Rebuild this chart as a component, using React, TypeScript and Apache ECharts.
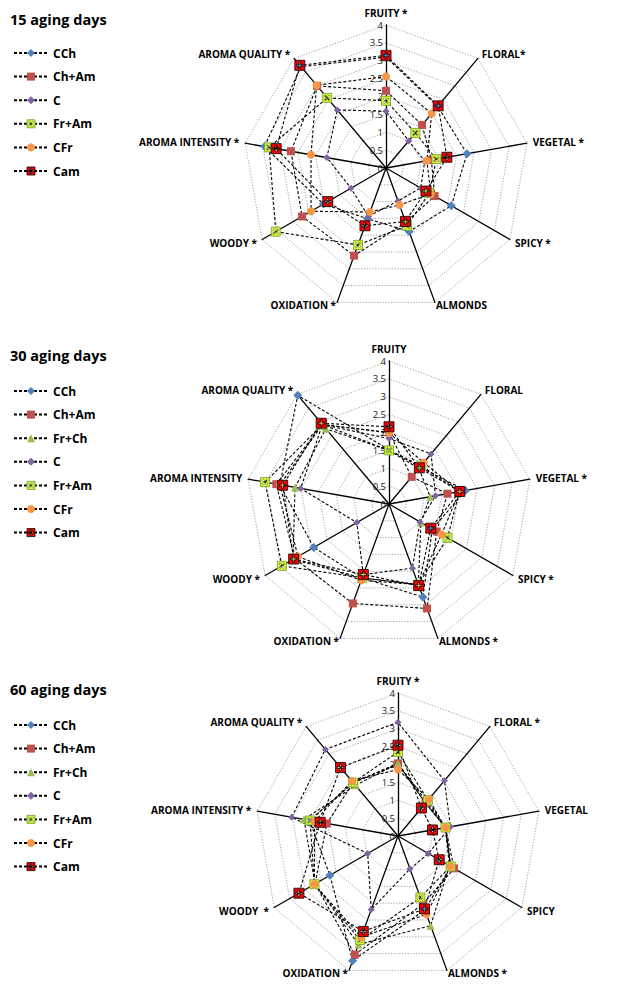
import React, { useEffect, useRef } from 'react';
import * as echarts from 'echarts';

// ---- data ----
const titles = ['15 aging days', '30 aging days', '60 aging days'];
const axisMax = 4;
const axisSplits = 8; // ticks every 0.5

const indicators15 = ['FRUITY *', 'FLORAL*', 'VEGETAL *', 'SPICY *', 'ALMONDS', 'OXIDATION *', 'WOODY *', 'AROMA INTENSITY *', 'AROMA QUALITY *'];
const indicators30 = ['FRUITY', 'FLORAL', 'VEGETAL *', 'SPICY *', 'ALMONDS *', 'OXIDATION *', 'WOODY *', 'AROMA INTENSITY', 'AROMA QUALITY *'];
const indicators60 = ['FRUITY *', 'FLORAL *', 'VEGETAL', 'SPICY', 'ALMONDS *', 'OXIDATION *', 'WOODY  *', 'AROMA INTENSITY *', 'AROMA QUALITY *'];

const names15 = ['CCh', 'Ch+Am', 'C', 'Fr+Am', 'CFr', 'Cam'];
const names30 = ['CCh', 'Ch+Am', 'Fr+Ch', 'C', 'Fr+Am', 'CFr', 'Cam'];
const names60 = ['CCh', 'Ch+Am', 'Fr+Ch', 'C', 'Fr+Am', 'CFr', 'Cam'];

// order: Fruity, Floral, Vegetal, Spicy, Almonds, Oxidation, Woody, Aroma intensity, Aroma quality
const d15CCh = [3.10, 2.25, 2.30, 2.11, 1.89, 1.51, 2.02, 3.45, 3.70];
const d15ChAm = [2.16, 1.57, 1.29, 1.57, 1.62, 2.61, 2.71, 2.70, 3.00];
const d15C = [1.59, 0.99, 1.10, 1.12, 0.98, 1.44, 1.13, 1.68, 2.12];
const d15FrAm = [1.88, 1.28, 1.43, 1.40, 1.72, 2.29, 3.56, 3.32, 2.56];
const d15CFr = [2.56, 1.99, 1.16, 1.45, 1.10, 1.31, 2.42, 2.13, 3.02];
const d15Cam = [3.15, 2.27, 1.73, 1.29, 1.59, 1.72, 1.88, 3.12, 3.75];

const d30CCh = [1.52, 1.35, 2.17, 1.40, 2.77, 2.20, 2.43, 3.10, 3.97];
const d30ChAm = [2.00, 0.99, 1.66, 1.54, 3.11, 2.96, 3.05, 3.20, 2.90];
const d30FrCh = [1.50, 1.30, 1.17, 1.03, 2.40, 2.20, 3.10, 2.67, 2.75];
const d30C = [1.83, 1.83, 1.32, 1.00, 1.91, 2.10, 1.04, 2.51, 2.90];
const d30FrAm = [1.50, 1.40, 2.00, 1.89, 2.40, 2.20, 3.46, 3.52, 2.90];
const d30CFr = [1.99, 1.51, 2.00, 1.70, 2.40, 2.27, 2.94, 3.10, 2.90];
const d30Cam = [2.16, 1.32, 2.01, 1.35, 2.43, 2.10, 3.08, 3.02, 2.95];

const d60CCh = [2.00, 1.20, 1.35, 1.70, 2.20, 3.71, 2.20, 2.51, 1.95];
const d60ChAm = [2.03, 1.20, 1.35, 1.81, 2.03, 3.53, 2.68, 2.02, 1.95];
const d60FrCh = [2.03, 1.25, 1.34, 1.66, 2.67, 3.23, 2.68, 2.67, 1.85];
const d60C = [3.18, 2.02, 1.49, 0.98, 0.98, 2.19, 0.98, 3.02, 3.16];
const d60FrAm = [2.35, 1.30, 1.35, 1.70, 1.83, 3.10, 2.70, 2.50, 1.95];
const d60CFr = [1.86, 1.34, 1.35, 1.70, 2.33, 3.01, 2.70, 2.37, 2.01];
const d60Cam = [2.54, 1.02, 0.98, 1.33, 2.17, 2.84, 3.20, 2.21, 2.50];

const values15 = [d15CCh, d15ChAm, d15C, d15FrAm, d15CFr, d15Cam];
const values30 = [d30CCh, d30ChAm, d30FrCh, d30C, d30FrAm, d30CFr, d30Cam];
const values60 = [d60CCh, d60ChAm, d60FrCh, d60C, d60FrAm, d60CFr, d60Cam];

// ---- styles ----
const FONT = '"Open Sans", "Liberation Sans", sans-serif';
const camPath = 'path://M0,0H10V10H0Z M4.1,1.8V4.1H1.8V5.9H4.1V8.2H5.9V5.9H8.2V4.1H5.9V1.8Z';
const xPath = 'path://M0,0H10V10H0Z M3,1.8L1.8,3L3.8,5L1.8,7L3,8.2L5,6.2L7,8.2L8.2,7L6.2,5L8.2,3L7,1.8L5,3.8Z';

const STY: Record<string, any> = {
  'CCh': { symbol: 'diamond', size: 9, itemStyle: { color: '#4F81BD', borderWidth: 0 } },
  'Ch+Am': { symbol: 'rect', size: 8, itemStyle: { color: '#C0504D', borderWidth: 0 } },
  'Fr+Ch': { symbol: 'triangle', size: 8, itemStyle: { color: '#9BBB59', borderWidth: 0 } },
  'C': { symbol: 'diamond', size: 7, itemStyle: { color: '#8064A2', borderWidth: 0 } },
  'Fr+Am': { symbol: xPath, size: 9, itemStyle: { color: '#E6F032', borderColor: '#6FA83A', borderWidth: 0.9 } },
  'CFr': { symbol: 'circle', size: 8, itemStyle: { color: '#F79646', borderWidth: 0 } },
  'Cam': { symbol: camPath, size: 10, itemStyle: { color: '#FF0000', borderColor: '#000', borderWidth: 0.8 } },
};

const ORDER = [0, 8, 7, 6, 5, 4, 3, 2, 1]; // ECharts radar runs counter-clockwise
const reorder = (a: any[]) => ORDER.map((i) => a[i]);
// name gap per original axis position
const nameGaps = [7, 6, 6, 6, 3, 3, 6, 6, 6];

const R = 143;
const centers = [[386, 168], [389, 504], [398, 836]];
const legendTops = [42, 380, 714];
const titleTops = [7, 343, 677];

export default function App() {
  const ref = useRef<HTMLDivElement>(null);
  useEffect(() => {
    if (!ref.current) return;
    const chart = echarts.init(ref.current, null, { renderer: 'svg' });
    const indicatorSets = [indicators15, indicators30, indicators60];
    const nameSets = [names15, names30, names60];
    const valueSets = [values15, values30, values60];

    const radar = indicatorSets.map((ind, i) => ({
      center: centers[i],
      radius: R,
      startAngle: 90,
      splitNumber: axisSplits,
      shape: 'polygon',
      nameGap: 6,
      axisName: { color: '#000', fontWeight: 'bold', fontSize: 10, fontFamily: FONT },
      indicator: reorder(ind.map((n: string, j: number) => ({ n, gap: nameGaps[j] }))).map((o: any, j: number) => ({
        name: o.n,
        min: 0,
        max: axisMax,
        nameGap: o.gap,
        ...(j === 0
          ? { axisLabel: { show: true, color: '#222', fontSize: 9.5, fontFamily: FONT, margin: 3 } }
          : {}),
      })),
      axisLine: { lineStyle: { color: '#000', width: 1.3 } },
      splitLine: { lineStyle: { color: '#9a9a9a', type: [1.2, 1.6], width: 0.9 } },
      splitArea: { show: false },
      axisTick: { show: false },
      axisLabel: { show: false },
    }));

    const allNames = ['CCh', 'Ch+Am', 'Fr+Ch', 'C', 'Fr+Am', 'CFr', 'Cam'];
    const dummy = allNames.map((n) => ({
      type: 'line',
      name: n,
      data: [],
      symbol: STY[n].symbol,
      symbolSize: STY[n].size,
      itemStyle: STY[n].itemStyle,
      lineStyle: { color: '#000', type: [3, 2], width: 1 },
    }));

    const radarSeries: any[] = [];
    nameSets.forEach((names, i) => {
      names.forEach((n, k) => {
        radarSeries.push({
          type: 'radar',
          radarIndex: i,
          name: n,
          symbol: STY[n].symbol,
          symbolSize: STY[n].size,
          itemStyle: STY[n].itemStyle,
          lineStyle: { color: '#000', type: [3, 2], width: 1.1 },
          data: [{ name: n, value: reorder(valueSets[i][k]) }],
        });
      });
    });

    chart.setOption({
      animation: false,
      backgroundColor: '#fff',
      title: titles.map((t, i) => ({
        text: t,
        left: 5,
        top: titleTops[i],
        textStyle: { fontSize: 14.5, fontWeight: 'bold', color: '#000', fontFamily: FONT },
      })),
      legend: nameSets.map((names, i) => ({
        orient: 'vertical',
        left: 8,
        top: legendTops[i],
        itemWidth: 34,
        itemHeight: 10,
        itemGap: 11.6,
        selectedMode: false,
        data: names.map((n) => ({
          name: n,
          itemStyle: {
            color: STY[n].itemStyle.color,
            borderColor: STY[n].itemStyle.borderColor || STY[n].itemStyle.color,
            borderWidth: STY[n].itemStyle.borderWidth,
          },
        })),
        textStyle: { fontSize: 12, fontWeight: 'bold', color: '#000', fontFamily: FONT },
      })),
      grid: { left: -50, top: -50, width: 1, height: 1, show: false },
      xAxis: { type: 'category', show: false },
      yAxis: { type: 'value', show: false },
      radar,
      series: [...dummy, ...radarSeries],
    });
    return () => chart.dispose();
  }, []);
  return <div ref={ref} style={{ position: 'absolute', left: 0, top: 0, width: 635, height: 988 }} />;
}
